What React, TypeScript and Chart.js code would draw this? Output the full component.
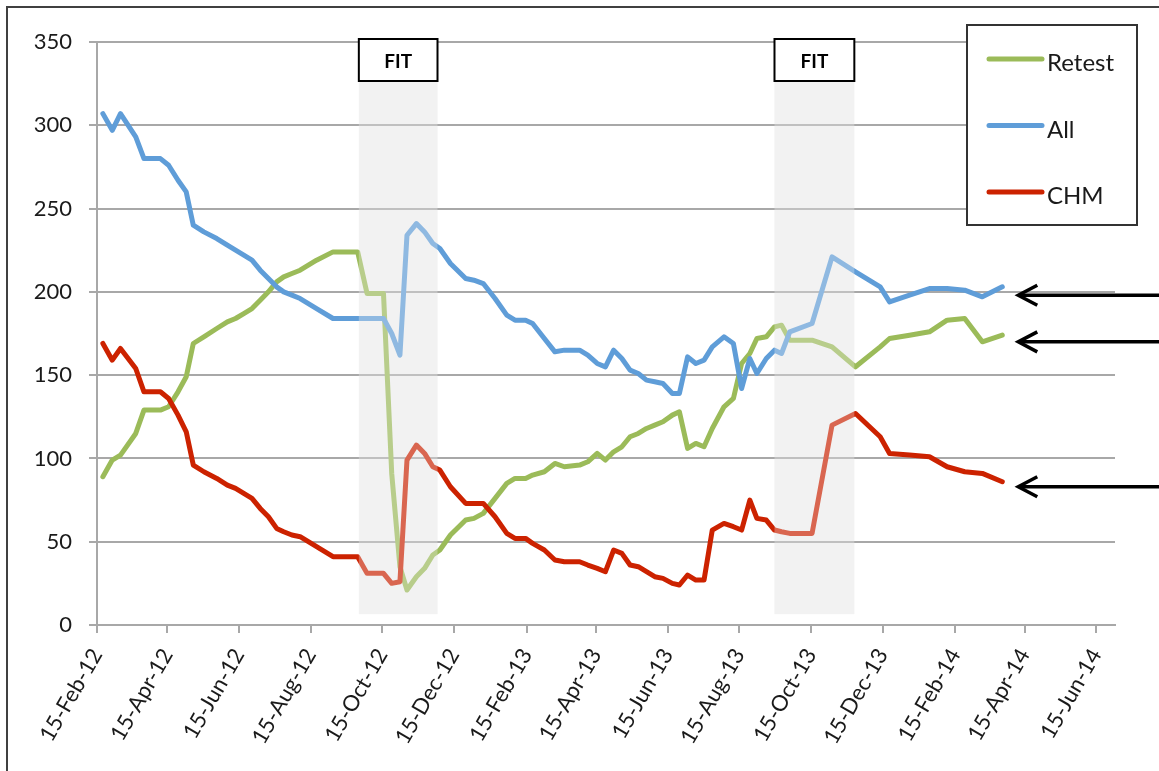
import React, { useEffect, useRef } from "react";
import { Chart, registerables } from "chart.js";

Chart.register(...registerables);

const START_DATE = "2012-02-15";
const END_DATE = "2014-07-01";

const dates = [
  "2012-02-20", "2012-02-28", "2012-03-06", "2012-03-19", "2012-03-26", "2012-04-09", "2012-04-16", "2012-04-24", "2012-05-01", "2012-05-07",
  "2012-05-16", "2012-05-27", "2012-06-05", "2012-06-12", "2012-06-19", "2012-06-26", "2012-07-03", "2012-07-10", "2012-07-17", "2012-07-23",
  "2012-07-30", "2012-08-06", "2012-08-20", "2012-09-03", "2012-09-24", "2012-10-02", "2012-10-16", "2012-10-23", "2012-10-30", "2012-11-05",
  "2012-11-13", "2012-11-20", "2012-11-27", "2012-12-03", "2012-12-12", "2012-12-25", "2013-01-01", "2013-01-09", "2013-01-19", "2013-01-29",
  "2013-02-05", "2013-02-14", "2013-02-20", "2013-03-02", "2013-03-11", "2013-03-19", "2013-04-01", "2013-04-08", "2013-04-16", "2013-04-23",
  "2013-04-30", "2013-05-07", "2013-05-14", "2013-05-21", "2013-05-28", "2013-06-04", "2013-06-11", "2013-06-19", "2013-06-25", "2013-07-02",
  "2013-07-09", "2013-07-16", "2013-07-23", "2013-08-02", "2013-08-10", "2013-08-17", "2013-08-24", "2013-08-30", "2013-09-07", "2013-09-14",
  "2013-09-20", "2013-09-27", "2013-10-16", "2013-11-02", "2013-11-22", "2013-12-13", "2013-12-21", "2014-01-07", "2014-01-24", "2014-02-08",
  "2014-02-23", "2014-03-10", "2014-03-27",
];

const retest = [
  89, 99, 102, 115, 129, 129, 131, 140, 149, 169,
  173, 178, 182, 184, 187, 190, 195, 200, 206, 209,
  211, 213, 219, 224, 224, 199, 199, 91, 35, 21,
  29, 34, 42, 45, 54, 63, 64, 67, 76, 85,
  88, 88, 90, 92, 97, 95, 96, 98, 103, 99,
  104, 107, 113, 115, 118, 120, 122, 126, 128, 106,
  109, 107, 118, 131, 136, 157, 163, 172, 173, 179,
  180, 171, 171, 167, 155, 167, 172, 174, 176, 183,
  184, 170, 174,
];

const all = [
  307, 297, 307, 293, 280, 280, 276, 267, 260, 240,
  236, 232, 228, 225, 222, 219, 213, 208, 203, 200,
  198, 196, 190, 184, 184, 184, 184, 175, 162, 234,
  241, 236, 229, 226, 217, 208, 207, 205, 196, 186,
  183, 183, 181, 172, 164, 165, 165, 162, 157, 155,
  165, 160, 153, 151, 147, 146, 145, 139, 139, 161,
  157, 159, 167, 173, 169, 142, 160, 151, 160, 165,
  163, 176, 181, 221, 212, 203, 194, 198, 202, 202,
  201, 197, 203,
];

const chm = [
  169, 159, 166, 154, 140, 140, 136, 126, 116, 96,
  92, 88, 84, 82, 79, 76, 70, 65, 58, 56,
  54, 53, 47, 41, 41, 31, 31, 25, 26, 99,
  108, 103, 95, 93, 83, 73, 73, 73, 65, 55,
  52, 52, 49, 45, 39, 38, 38, 36, 34, 32,
  45, 43, 36, 35, 32, 29, 28, 25, 24, 30,
  27, 27, 57, 61, 59, 57, 75, 64, 63, 57,
  56, 55, 55, 120, 127, 113, 103, 102, 101, 95,
  92, 91, 86,
];

const tickDates = [
  "2012-02-15", "2012-04-15", "2012-06-15", "2012-08-15", "2012-10-15", "2012-12-15", "2013-02-15", "2013-04-15",
  "2013-06-15", "2013-08-15", "2013-10-15", "2013-12-15", "2014-02-15", "2014-04-15", "2014-06-15",
];
const tickLabels = [
  "15-Feb-12", "15-Apr-12", "15-Jun-12", "15-Aug-12", "15-Oct-12", "15-Dec-12", "15-Feb-13", "15-Apr-13",
  "15-Jun-13", "15-Aug-13", "15-Oct-13", "15-Dec-13", "15-Feb-14", "15-Apr-14", "15-Jun-14",
];

const fitStarts = ["2012-09-25", "2013-09-14"];
const fitEnds = ["2012-12-01", "2013-11-21"];
const fitLabel = "FIT";
const arrowTargets = [198, 170, 83];

const seriesNames = ["Retest", "All", "CHM"];
const seriesColors = ["#9bbb59", "#5f9dd8", "#cc2200"];

const Y_MIN = 0;
const Y_MAX = 350;
const Y_STEP = 50;

const FONT = "Lato";
const TEXT = "#1a1a1a";
const GRID = "#a8a8a8";

const dayOf = (s: string) =>
  Math.round((Date.parse(s + "T00:00:00Z") - Date.parse(START_DATE + "T00:00:00Z")) / 86400000);

const BOX_TOP = 39;
const BOX_BOTTOM = 81;
const SHADE_BOTTOM_VALUE = 6.5;

const decorPlugin = {
  id: "decor",
  beforeDraw(chart: any) {
    const { ctx } = chart;
    const x = chart.scales.x;
    const y = chart.scales.y;
    ctx.save();
    ctx.fillStyle = "#ffffff";
    ctx.fillRect(0, 0, chart.width, chart.height);
    ctx.fillStyle = "#f2f2f2";
    const yb = y.getPixelForValue(SHADE_BOTTOM_VALUE);
    for (let i = 0; i < fitStarts.length; i++) {
      const x0 = x.getPixelForValue(dayOf(fitStarts[i]));
      const x1 = x.getPixelForValue(dayOf(fitEnds[i]));
      ctx.fillRect(x0, BOX_BOTTOM, x1 - x0, yb - BOX_BOTTOM);
    }
    ctx.restore();
  },
  afterDatasetsDraw(chart: any) {
    const { ctx } = chart;
    const x = chart.scales.x;
    const y = chart.scales.y;
    ctx.save();
    const yb = y.getPixelForValue(SHADE_BOTTOM_VALUE);
    for (let i = 0; i < fitStarts.length; i++) {
      const x0 = x.getPixelForValue(dayOf(fitStarts[i]));
      const x1 = x.getPixelForValue(dayOf(fitEnds[i]));
      // translucent shading over the lines
      ctx.fillStyle = "rgba(242,242,242,0.33)";
      ctx.fillRect(x0, BOX_BOTTOM, x1 - x0, yb - BOX_BOTTOM);
      // FIT box
      ctx.fillStyle = "#ffffff";
      ctx.fillRect(x0, BOX_TOP, x1 - x0, BOX_BOTTOM - BOX_TOP);
      ctx.strokeStyle = "#000000";
      ctx.lineWidth = 2;
      ctx.strokeRect(x0, BOX_TOP, x1 - x0, BOX_BOTTOM - BOX_TOP);
      ctx.fillStyle = "#000000";
      ctx.font = `bold 19px ${FONT}`;
      ctx.textAlign = "center";
      ctx.textBaseline = "alphabetic";
      ctx.fillText(fitLabel, (x0 + x1) / 2, 67.5);
    }

    // legend
    const lx = 967, ly = 25, lw = 170, lh = 200;
    ctx.fillStyle = "#ffffff";
    ctx.fillRect(lx, ly, lw, lh);
    ctx.strokeStyle = "#333333";
    ctx.lineWidth = 2;
    ctx.strokeRect(lx, ly, lw, lh);
    const rows = [59, 125.5, 192];
    ctx.lineCap = "round";
    ctx.font = `24px ${FONT}`;
    ctx.textAlign = "left";
    ctx.textBaseline = "alphabetic";
    for (let i = 0; i < seriesNames.length; i++) {
      ctx.strokeStyle = seriesColors[i];
      ctx.lineWidth = 5;
      ctx.beginPath();
      ctx.moveTo(989, rows[i]);
      ctx.lineTo(1042, rows[i]);
      ctx.stroke();
      ctx.fillStyle = TEXT;
      ctx.fillText(seriesNames[i], 1047, rows[i] + 12);
    }

    // arrows
    const lastX = x.getPixelForValue(dayOf(dates[dates.length - 1]));
    const tipX = lastX + 16;
    ctx.strokeStyle = "#000000";
    ctx.lineWidth = 3.5;
    ctx.lineCap = "butt";
    ctx.lineJoin = "miter";
    for (const v of arrowTargets) {
      const ay = y.getPixelForValue(v);
      ctx.beginPath();
      ctx.moveTo(tipX + 1, ay);
      ctx.lineTo(chart.width, ay);
      ctx.stroke();
      ctx.beginPath();
      ctx.moveTo(tipX + 19, ay - 10);
      ctx.lineTo(tipX, ay);
      ctx.lineTo(tipX + 19, ay + 10);
      ctx.stroke();
    }

    // frame
    ctx.strokeStyle = "#404040";
    ctx.lineWidth = 2;
    ctx.beginPath();
    ctx.moveTo(7, chart.height);
    ctx.lineTo(7, 7);
    ctx.lineTo(chart.width, 7);
    ctx.stroke();
    ctx.restore();
  },
};

export default function App() {
  const canvasRef = useRef<HTMLCanvasElement | null>(null);

  useEffect(() => {
    const canvas = canvasRef.current;
    if (!canvas) return;
    const xs = dates.map(dayOf);
    const mk = (vals: number[]) => vals.map((v, i) => ({ x: xs[i], y: v }));
    const seriesData = [retest, all, chm];
    const chart = new Chart(canvas, {
      type: "line",
      data: {
        datasets: seriesNames.map((name, i) => ({
          label: name,
          data: mk(seriesData[i]),
          borderColor: seriesColors[i],
          backgroundColor: seriesColors[i],
          borderWidth: 5,
          pointRadius: 0,
          fill: false,
          tension: 0,
          borderJoinStyle: "round" as const,
          borderCapStyle: "round" as const,
          order: 3 - i,
        })),
      },
      options: {
        animation: false,
        responsive: false,
        devicePixelRatio: 1,
        events: [],
        layout: { padding: { top: 42, right: 44, left: 0, bottom: 0 } },
        plugins: {
          legend: { display: false },
          tooltip: { enabled: false },
        },
        scales: {
          x: {
            type: "linear",
            min: 0,
            max: dayOf(END_DATE),
            afterBuildTicks: (scale: any) => {
              scale.ticks = tickDates.map((d) => ({ value: dayOf(d) }));
            },
            afterFit: (scale: any) => {
              scale.height = 146;
            },
            grid: {
              display: true,
              drawOnChartArea: false,
              drawTicks: true,
              tickLength: 8,
              color: GRID,
              lineWidth: 2,
            },
            border: { display: true, color: GRID, width: 2 },
            ticks: {
              autoSkip: false,
              maxRotation: 60,
              minRotation: 60,
              padding: 11,
              color: TEXT,
              font: { family: FONT, size: 22 },
              callback: (_v: any, i: number) => tickLabels[i],
            },
          },
          y: {
            type: "linear",
            min: Y_MIN,
            max: Y_MAX,
            afterFit: (scale: any) => {
              scale.width = 97;
            },
            grid: {
              display: true,
              drawTicks: true,
              tickLength: 8,
              color: GRID,
              lineWidth: 2,
            },
            border: { display: true, color: GRID, width: 2 },
            ticks: {
              stepSize: Y_STEP,
              padding: 17,
              color: TEXT,
              font: { family: FONT, size: 22 },
            },
          },
        },
      },
      plugins: [decorPlugin],
    });
    return () => chart.destroy();
  }, []);

  return (
    <div style={{ position: "fixed", left: 0, top: 0, width: 1159, height: 771, background: "#fff" }}>
      <canvas ref={canvasRef} width={1159} height={771} style={{ display: "block" }} />
    </div>
  );
}
